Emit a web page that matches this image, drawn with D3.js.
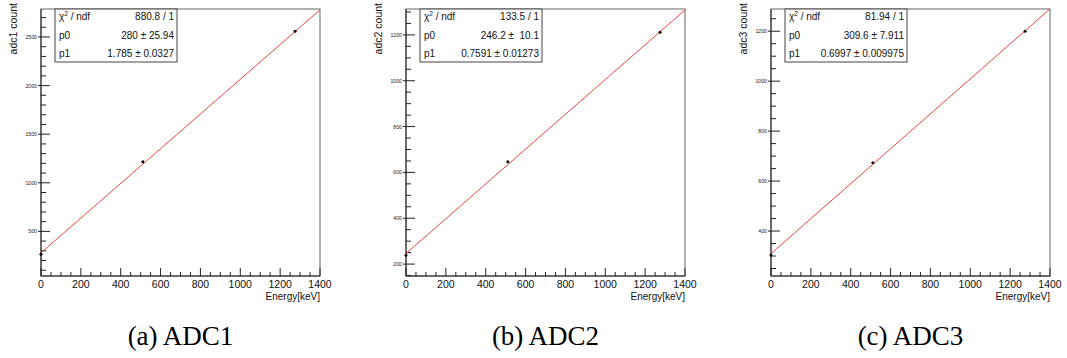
<!DOCTYPE html>
<html>
<head>
<meta charset="utf-8">
<script src="https://cdn.jsdelivr.net/npm/d3@7"></script>
<style>
  html, body { margin: 0; padding: 0; background: #fff; }
  svg { display: block; }
</style>
</head>
<body>
<svg id="chart" width="1067" height="358"></svg>
<script>
// ---- Data ----
const energies = [0, 511, 1275];
const adc1 = [264, 1217, 2560];
const adc2 = [239, 646, 1212];
const adc3 = [304, 673, 1200];

const yTitles = ["adc1 count", "adc2 count", "adc3 count"];
const captions = ["(a) ADC1", "(b) ADC2", "(c) ADC3"];

const chi2Labels = ["880.8 / 1", "133.5 / 1", "81.94 / 1"];
const p0Labels = ["280 \u00b1 25.94", "246.2 \u00b1  10.1", "309.6 \u00b1 7.911"];
const p1Labels = ["1.785 \u00b1 0.0327", "0.7591 \u00b1 0.01273", "0.6997 \u00b1 0.009975"];
const p0Values = [280, 246.2, 309.6];
const p1Values = [1.785, 0.7591, 0.6997];

const xDomain = [0, 1400];
const xTicks = [0, 200, 400, 600, 800, 1000, 1200, 1400];
const yDomains = [[41, 2788], [148, 1313], [220, 1289]];
const yTickSets = [[500, 1000, 1500, 2000, 2500], [200, 400, 600, 800, 1000, 1200], [400, 600, 800, 1000, 1200]];
const yMinorSteps = [100, 50, 50];
const xMinorStep = 50;

const seriesList = [adc1, adc2, adc3];

// ---- Layout ----
const panelLefts = [41, 406, 771];
const plotW = 279, plotTop = 9, plotBottom = 276;
const svg = d3.select("#chart");
const sans = "'Liberation Sans', Arial, Helvetica, sans-serif";

seriesList.forEach((vals, i) => {
  const L = panelLefts[i];
  const x = d3.scaleLinear().domain(xDomain).range([L, L + plotW]);
  const y = d3.scaleLinear().domain(yDomains[i]).range([plotBottom, plotTop]);
  const g = svg.append("g");

  // frame
  g.append("rect").attr("x", L).attr("y", plotTop).attr("width", plotW).attr("height", plotBottom - plotTop)
    .attr("fill", "none").attr("stroke", "#666").attr("stroke-width", 1);
  g.append("line").attr("x1", L).attr("x2", L).attr("y1", plotTop).attr("y2", plotBottom)
    .attr("stroke", "#222");
  g.append("line").attr("x1", L).attr("x2", L + plotW).attr("y1", plotBottom).attr("y2", plotBottom)
    .attr("stroke", "#222");

  // x axis ticks (inward, upward)
  const xMin = d3.range(xDomain[0], xDomain[1] + 1, xMinorStep);
  g.selectAll(".xminor").data(xMin).join("line")
    .attr("x1", d => x(d)).attr("x2", d => x(d))
    .attr("y1", plotBottom).attr("y2", d => plotBottom - (d % 200 === 0 ? 8 : 4))
    .attr("stroke", "#222").attr("stroke-width", 1);
  g.selectAll(".xlab").data(xTicks).join("text")
    .attr("x", d => x(d)).attr("y", 288)
    .attr("text-anchor", "middle").attr("font-family", sans).attr("font-size", 10.5)
    .attr("fill", "#111").text(d => d);
  g.append("text").attr("x", L + plotW).attr("y", 300).attr("text-anchor", "end")
    .attr("font-family", sans).attr("font-size", 10).attr("fill", "#111").text("Energy[keV]");

  // y axis ticks
  const yd = yDomains[i];
  const st = yMinorSteps[i];
  const yMin = d3.range(Math.ceil(yd[0] / st) * st, yd[1], st);
  const majorSet = new Set(yTickSets[i]);
  g.selectAll(".yminor").data(yMin.filter(v => !majorSet.has(v))).join("line")
    .attr("x1", L).attr("x2", L + 5)
    .attr("y1", d => y(d)).attr("y2", d => y(d))
    .attr("stroke", "#222").attr("stroke-width", 1);
  g.selectAll(".ymajor").data(yTickSets[i]).join("line")
    .attr("x1", L - 3).attr("x2", L + 9)
    .attr("y1", d => y(d)).attr("y2", d => y(d))
    .attr("stroke", "#222").attr("stroke-width", 1);
  g.selectAll(".ylab").data(yTickSets[i]).join("text")
    .attr("x", L - 4).attr("y", d => y(d) + 2)
    .attr("text-anchor", "end").attr("font-family", sans).attr("font-size", 5.2)
    .attr("fill", "#222").text(d => d);

  // y title
  g.append("text")
    .attr("transform", `translate(${L - 24},3) rotate(-90)`)
    .attr("text-anchor", "end").attr("font-family", sans).attr("font-size", 10.5)
    .attr("fill", "#111").text(yTitles[i]);

  // fit line
  g.append("line")
    .attr("x1", x(xDomain[0])).attr("y1", y(p0Values[i] + p1Values[i] * xDomain[0]))
    .attr("x2", x(xDomain[1])).attr("y2", y(p0Values[i] + p1Values[i] * xDomain[1]))
    .attr("stroke", "#e8463f").attr("stroke-width", 1);

  // points
  g.selectAll(".pt").data(energies.map((e, k) => [e, vals[k]])).join("circle")
    .attr("cx", d => x(d[0])).attr("cy", d => y(d[1])).attr("r", 1.5).attr("fill", "#000");

  // stats box
  const bx = L + 14, bw = 122, by = plotTop, bh = 53;
  g.append("rect").attr("x", bx).attr("y", by).attr("width", bw).attr("height", bh)
    .attr("fill", "#fff").attr("stroke", "#444").attr("stroke-width", 1);
  const rows = [
    { lab: "chi", val: chi2Labels[i], yy: 19.5 },
    { lab: "p0", val: p0Labels[i], yy: 38.5 },
    { lab: "p1", val: p1Labels[i], yy: 56.5 }
  ];
  rows.forEach(r => {
    const t = g.append("text").attr("x", bx + 4).attr("y", r.yy)
      .attr("font-family", sans).attr("font-size", 10).attr("fill", "#111");
    if (r.lab === "chi") {
      t.append("tspan").text("\u03c7");
      t.append("tspan").attr("font-size", 6.5).attr("dy", -3.5).text("2");
      t.append("tspan").attr("dy", 3.5).text(" / ndf");
    } else {
      t.text(r.lab);
    }
    g.append("text").attr("x", bx + bw - 3).attr("y", r.yy).attr("text-anchor", "end")
      .attr("font-family", sans).attr("font-size", 10).attr("fill", "#111")
      .attr("xml:space", "preserve").style("white-space", "pre").text(r.val);
  });

  // caption
  svg.append("text").attr("x", L + plotW / 2).attr("y", 345)
    .attr("text-anchor", "middle").attr("font-family", "'Liberation Serif', 'DejaVu Serif', serif")
    .attr("font-size", 27).attr("fill", "#000").text(captions[i]);
});
</script>
</body>
</html>
